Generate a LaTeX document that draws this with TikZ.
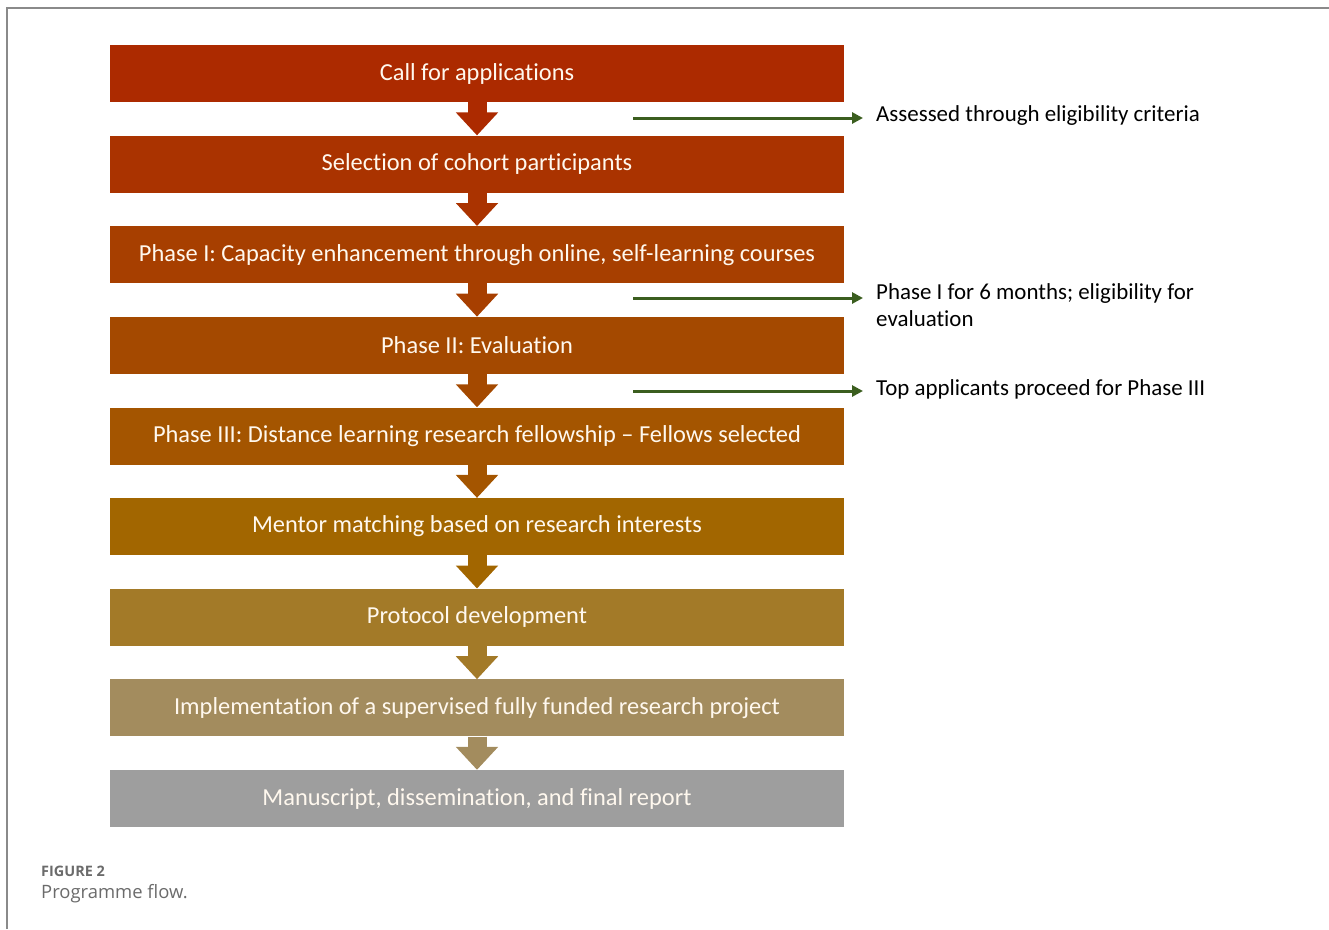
\documentclass[tikz,border=0pt]{standalone}
\usepackage{fontspec}
\setmainfont{Carlito}[Ligatures={NoCommon,NoContextual}]
\newfontfamily\capfont{Open Sans}
\usepackage{xcolor}
\usepackage{tikz}
\usetikzlibrary{arrows.meta}
\definecolor{Brick}{HTML}{AC2A00}
\definecolor{Rust}{HTML}{AA3300}
\definecolor{Ember}{HTML}{A73F00}
\definecolor{Copper}{HTML}{A44900}
\definecolor{Amber}{HTML}{A45500}
\definecolor{Ochre}{HTML}{A26600}
\definecolor{Bronze}{HTML}{A37A28}
\definecolor{Khaki}{HTML}{A38C5E}
\definecolor{Slate}{HTML}{9E9E9E}
\definecolor{Leaf}{HTML}{3B5E1F}
\definecolor{Cream}{HTML}{FFF8EE}
\definecolor{Frame}{HTML}{8A8A8A}

\begin{document}
\begin{tikzpicture}[x=1bp,y=-1bp,
    stage/.style={minimum width=734bp,minimum height=57bp,inner sep=0pt,
                  text=Cream,font=\fontsize{24.5}{28}\selectfont},
    flow/.style={-{Triangle[length=23bp,width=41bp]},line width=19bp},
    note/.style={inner sep=0pt,align=left,font=\fontsize{23}{27}\selectfont},
    pointer/.style={-{Triangle[length=11bp,width=11bp]},line width=3bp,color=Leaf,shorten >=13bp}]
  \useasboundingbox (0,0) rectangle (1329,929);
  \draw[Frame,line width=1.5bp] (7,929) -- (7,8) -- (1329,8);

  % programme stages
  \node[stage,fill=Brick]  (call)     at (477,73.5)  {Call for applications};
  \node[stage,fill=Rust]   (cohort)   at (477,164.1) {Selection of cohort participants};
  \node[stage,fill=Ember]  (phaseI)   at (477,254.7) {Phase I: Capacity enhancement through online, self-learning courses};
  \node[stage,fill=Copper] (phaseII)  at (477,345.4) {Phase II: Evaluation};
  \node[stage,fill=Amber]  (phaseIII) at (477,436)   {Phase III: Distance learning research fellowship -- Fellows selected};
  \node[stage,fill=Ochre]  (mentor)   at (477,526.6) {Mentor matching based on research interests};
  \node[stage,fill=Bronze] (protocol) at (477,617.2) {Protocol development};
  \node[stage,fill=Khaki]  (project)  at (477,707.9) {Implementation of a supervised fully funded research project};
  \node[stage,fill=Slate]  (report)   at (477,798.5) {Manuscript, dissemination, and final report};

  \draw[flow,color=Brick]  (call.south)     -- (cohort.north);
  \draw[flow,color=Rust]   (cohort.south)   -- (phaseI.north);
  \draw[flow,color=Ember]  (phaseI.south)   -- (phaseII.north);
  \draw[flow,color=Copper] (phaseII.south)  -- (phaseIII.north);
  \draw[flow,color=Amber]  (phaseIII.south) -- (mentor.north);
  \draw[flow,color=Ochre]  (mentor.south)   -- (protocol.north);
  \draw[flow,color=Bronze] (protocol.south) -- (project.north);
  \draw[flow,color=Khaki]  (project.south)  -- (report.north);

  % side notes
  \node[note,anchor=west] (eligible) at (876,116) {Assessed through eligibility criteria};
  \node[note,anchor=north west] (months) at (876,283) {Phase I for 6 months; eligibility for\\evaluation};
  \node[note,anchor=west] (top) at (876,389) {Top applicants proceed for Phase III};
  \coordinate (tailA) at (633,118);
  \coordinate (tailB) at (633,298);
  \coordinate (tailC) at (633,391);
  \draw[pointer] (tailA) -- (tailA -| eligible.west);
  \draw[pointer] (tailB) -- (tailB -| months.west);
  \draw[pointer] (tailC) -- (tailC -| top.west);

  % caption
  \node[anchor=west,inner sep=0pt,text=black!58,font=\capfont\fontsize{14.5}{16}\selectfont\bfseries] (figno) at (41,871) {FIGURE 2};
  \node[anchor=west,inner sep=0pt,text=black!58,font=\capfont\fontsize{18.5}{22}\selectfont] (title) at (41,894) {Programme flow.};
\end{tikzpicture}
\end{document}
